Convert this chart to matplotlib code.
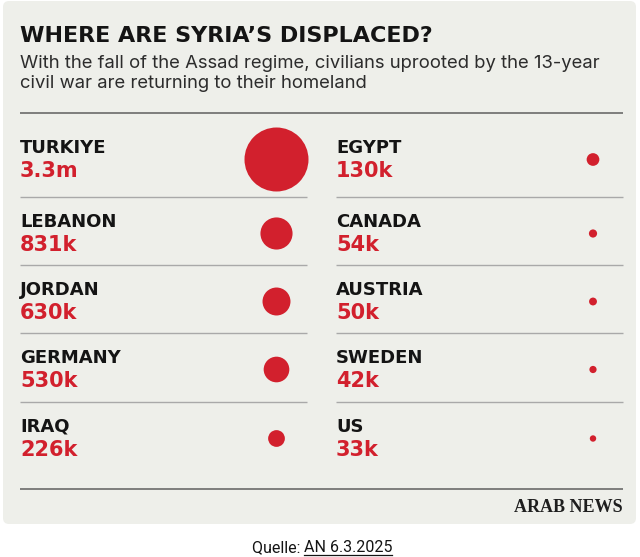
"""Where are Syria's displaced? bubble table, Arab News style."""

import matplotlib

matplotlib.use("Agg")
import matplotlib.pyplot as plt
import numpy as np
from matplotlib.patches import FancyBboxPatch

# data
left_countries = ["TURKIYE", "LEBANON", "JORDAN", "GERMANY", "IRAQ"]
left_values = [3_300_000, 831_000, 630_000, 530_000, 226_000]
left_labels = ["3.3m", "831k", "630k", "530k", "226k"]

right_countries = ["EGYPT", "CANADA", "AUSTRIA", "SWEDEN", "US"]
right_values = [130_000, 54_000, 50_000, 42_000, 33_000]
right_labels = ["130k", "54k", "50k", "42k", "33k"]

title = "WHERE ARE SYRIA\u2019S DISPLACED?"
subtitle_lines = [
    "With the fall of the Assad regime, civilians uprooted by the 13-year",
    "civil war are returning to their homeland",
]
source_prefix = "Quelle: "
source_link = "AN 6.3.2025"

RED = "#d2202d"
INK = "#141414"
PANEL = "#eeefea"
W, H = 640, 557
DPI = 100

fig = plt.figure(figsize=(W / DPI, H / DPI), dpi=DPI)
ax = fig.add_axes([0, 0, 1, 1])
ax.set_xlim(0, W)
ax.set_ylim(H, 0)
ax.set_axis_off()

ax.add_patch(FancyBboxPatch((3, 1), 633, 523, boxstyle="round,pad=0,rounding_size=6",
                            facecolor=PANEL, edgecolor="none", zorder=0))

ax.text(20, 42, title, fontsize=16, fontweight="heavy", color=INK,
        family="DejaVu Sans", va="baseline")
for i, line in enumerate(subtitle_lines):
    ax.text(20, 68 + 20 * i, line, fontsize=13.3, color="#2c2c2c",
            family=["Inter", "Roboto", "DejaVu Sans"], va="baseline")

# row grid
row_tops = np.array([113, 197, 265, 333, 402])
first_row_extra = np.array([10, 0, 0, 0, 0])
bottom_rule = 489
ax.plot([20, 623], [row_tops[0]] * 2, color="#6a6a6a", lw=1.2, solid_capstyle="butt")
ax.plot([20, 623], [bottom_rule] * 2, color="#6a6a6a", lw=1.2, solid_capstyle="butt")
for top in row_tops[1:]:
    ax.plot([20, 307], [top, top], color="#a9a9a9", lw=1.0, solid_capstyle="butt")
    ax.plot([336, 623], [top, top], color="#a9a9a9", lw=1.0, solid_capstyle="butt")

max_value = max(left_values)
max_radius_px = 32


def area_size(value):
    r_pt = max_radius_px * np.sqrt(value / max_value) * 72 / DPI
    return (2 * r_pt) ** 2


columns = (
    (20, 276.5, left_countries, left_values, left_labels),
    (336, 593, right_countries, right_values, right_labels),
)
for text_x, dot_x, names, values, labels in columns:
    base = row_tops + first_row_extra
    for y0, name, value, label in zip(base, names, values, labels):
        ax.text(text_x, y0 + 30, name, fontsize=13, fontweight="bold", color=INK,
                family="DejaVu Sans", va="baseline")
        ax.text(text_x, y0 + 54, label, fontsize=15, fontweight="bold", color=RED,
                family="DejaVu Sans", va="baseline")
    ax.scatter([dot_x] * len(values), base + 36.5, s=[area_size(v) for v in values],
               color=RED, edgecolors="none", zorder=3)

ax.text(623, 512, "ARAB NEWS", fontsize=13, fontweight="bold", color="#1e1e1e",
        family="Liberation Serif", ha="right", va="baseline")

# source line, centred, with the link part underlined
fig.canvas.draw()
renderer = fig.canvas.get_renderer()
prefix = ax.text(0, 552, source_prefix, fontsize=11.5, color=INK, family="Roboto",
                 va="baseline")
link = ax.text(0, 552, source_link, fontsize=11.5, color=INK, family="Roboto",
               va="baseline")
inv = ax.transData.inverted()
pw = np.diff(inv.transform(prefix.get_window_extent(renderer))[:, 0])[0]
lw_ = np.diff(inv.transform(link.get_window_extent(renderer))[:, 0])[0]
start = W / 2 + 2 - (pw + lw_) / 2
prefix.set_x(start)
link.set_x(start + pw)
ax.plot([start + pw, start + pw + lw_], [554.5, 554.5], color=INK, lw=0.9)

fig.savefig("out.png", dpi=DPI, facecolor="white")
